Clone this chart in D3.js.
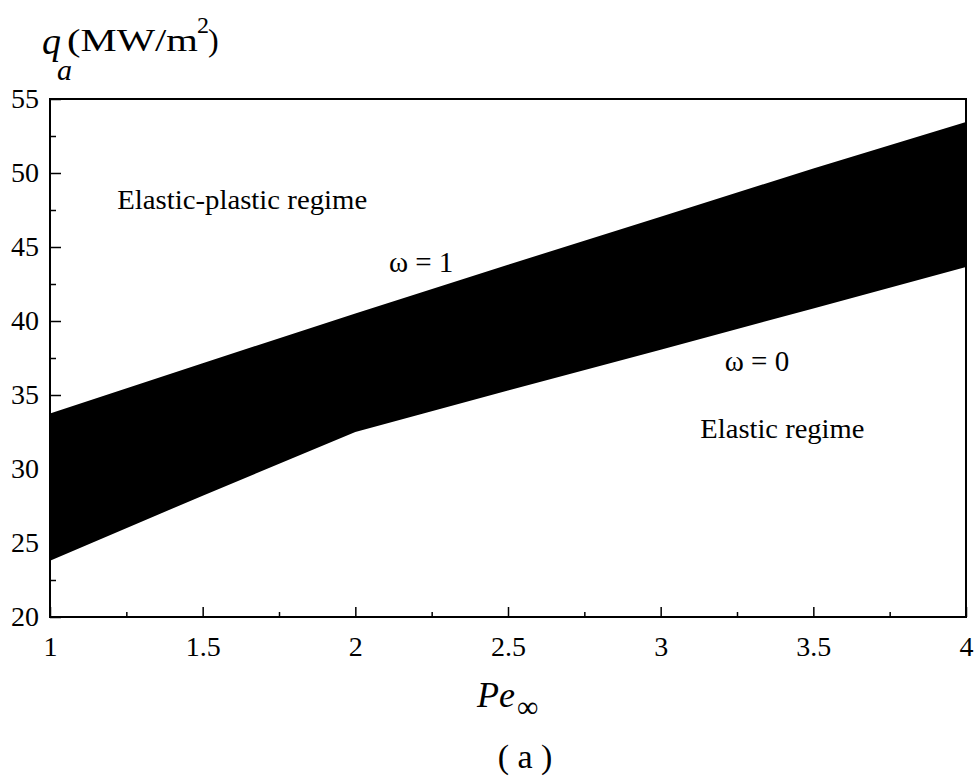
<!DOCTYPE html>
<html>
<head>
<meta charset="utf-8">
<script src="https://cdn.jsdelivr.net/npm/d3@7"></script>
<style>
  body { margin: 0; background: #fff; }
</style>
</head>
<body>
<div id="chart"></div>
<script>
// values
const pe = [1, 1.5, 2, 2.5, 3, 3.5, 4];
const qOmega1 = [33.75, 37.15, 40.5, 43.8, 47.05, 50.3, 53.45]; // upper edge, omega = 1
const qOmega0 = [23.8, 28.2, 32.5, 35.3, 38.05, 40.85, 43.65];  // lower edge, omega = 0
const xTicks = [1, 1.5, 2, 2.5, 3, 3.5, 4];
const yTicks = [20, 25, 30, 35, 40, 45, 50, 55];

const serif = "'Liberation Serif', 'Times New Roman', serif";
const width = 975, height = 779;
const margin = {top: 99, right: 9, bottom: 162, left: 50};
const innerW = width - margin.left - margin.right;
const innerH = height - margin.top - margin.bottom;

const svg = d3.select("#chart").append("svg")
    .attr("width", width)
    .attr("height", height)
    .style("font-family", serif);

const g = svg.append("g").attr("transform", "translate(" + margin.left + "," + margin.top + ")");

const x = d3.scaleLinear().domain([1, 4]).range([0, innerW]);
const y = d3.scaleLinear().domain([20, 55]).range([innerH, 0]);

const band = pe.map((p, i) => ({p: p, lo: qOmega0[i], hi: qOmega1[i]}));

const area = d3.area()
    .x(d => x(d.p))
    .y0(d => y(d.lo))
    .y1(d => y(d.hi));

g.append("path")
    .datum(band)
    .attr("d", area)
    .attr("fill", "#000");

// minor ticks (inward)
const xMinor = d3.range(1.25, 4, 0.5);
const yMinor = d3.range(22.5, 55, 5);

g.append("g")
    .attr("transform", "translate(0," + innerH + ")")
    .call(d3.axisBottom(x).tickValues(xMinor).tickSize(-5).tickFormat(""))
    .call(a => a.select(".domain").remove());
g.append("g")
    .call(d3.axisLeft(y).tickValues(yMinor).tickSize(-6).tickFormat(""))
    .call(a => a.select(".domain").remove());

// major ticks
const xAxis = g.append("g")
    .attr("transform", "translate(0," + innerH + ")")
    .call(d3.axisBottom(x).tickValues(xTicks).tickSize(-10).tickPadding(19).tickFormat(d => String(d)));
xAxis.select(".domain").remove();

const yAxis = g.append("g")
    .call(d3.axisLeft(y).tickValues(yTicks).tickSize(-11).tickPadding(11).tickFormat(d => String(d)));
yAxis.select(".domain").remove();

g.selectAll(".tick text")
    .attr("font-size", 28)
    .style("font-family", serif)
    .attr("fill", "#000");
g.selectAll(".tick line").attr("stroke", "#000").attr("stroke-width", 1.5);

// frame
g.append("rect")
    .attr("width", innerW)
    .attr("height", innerH)
    .attr("fill", "none")
    .attr("stroke", "#000")
    .attr("stroke-width", 2);

// region and curve labels
const labels = [
  {t: "Elastic-plastic regime", px: 1.22, qy: 47.6, w: 250},
  {t: "\u03c9 = 1", px: 2.11, qy: 43.3, w: 0},
  {t: "\u03c9 = 0", px: 3.21, qy: 36.6, w: 0},
  {t: "Elastic regime", px: 3.13, qy: 32.1, w: 164}
];
const lbl = g.selectAll(".lbl")
    .data(labels)
    .enter().append("text")
    .attr("class", "lbl")
    .attr("x", d => x(d.px))
    .attr("y", d => y(d.qy))
    .attr("font-size", d => d.w ? 27 : 29)
    .text(d => d.t);
lbl.filter(d => d.w)
    .attr("textLength", d => d.w)
    .attr("lengthAdjust", "spacingAndGlyphs");

// y axis title q_a (MW/m^2)
const yt = svg.append("g");
yt.append("text").attr("x", 42).attr("y", 54).attr("font-size", 38).attr("font-style", "italic").text("q");
yt.append("text").attr("x", 57).attr("y", 80).attr("font-size", 30).attr("font-style", "italic").text("a");
yt.append("text").attr("x", 67).attr("y", 51).attr("font-size", 32)
    .attr("textLength", 131).attr("lengthAdjust", "spacingAndGlyphs").text("(MW/m");
yt.append("text").attr("x", 197).attr("y", 33).attr("font-size", 24).text("2");
yt.append("text").attr("x", 208).attr("y", 51).attr("font-size", 32).text(")");

// x axis title Pe_inf
const xt = svg.append("g");
xt.append("text").attr("x", 477).attr("y", 707).attr("font-size", 36).attr("font-style", "italic").text("Pe");
xt.append("text").attr("x", 517).attr("y", 717).attr("font-size", 30).text("\u221e");

svg.append("text")
    .attr("x", 525).attr("y", 768)
    .attr("text-anchor", "middle")
    .attr("font-size", 34)
    .text("( a )");
</script>
</body>
</html>
